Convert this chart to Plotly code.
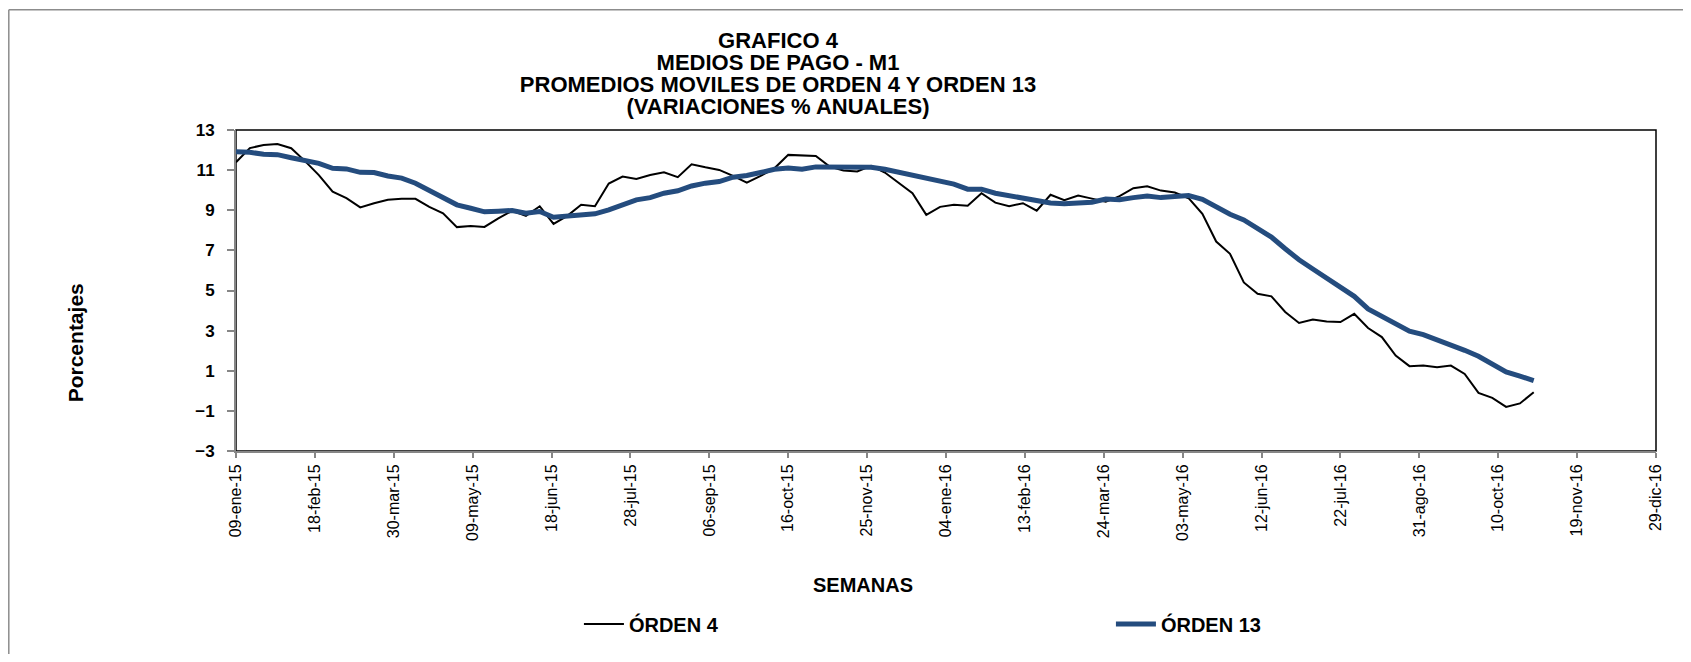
import pandas as pd
import plotly.graph_objects as go

# weekly data, first week 09-ene-15
FIRST_WEEK = "2015-01-09"

ORDEN_4 = [
    11.39, 12.10, 12.25, 12.30, 12.09, 11.45, 10.75, 9.93, 9.60, 9.14,
    9.35, 9.52, 9.57, 9.57, 9.17, 8.85, 8.16, 8.22, 8.17, 8.60,
    8.97, 8.72, 9.20, 8.32, 8.72, 9.27, 9.20, 10.33, 10.68, 10.56,
    10.76, 10.89, 10.65, 11.29, 11.14, 11.01, 10.71, 10.38, 10.71, 11.09,
    11.76, 11.74, 11.71, 11.18, 10.98, 10.93, 11.21, 10.88, 10.35, 9.85,
    8.77, 9.17, 9.27, 9.23, 9.85, 9.38, 9.20, 9.35, 8.98, 9.77,
    9.50, 9.73, 9.58, 9.42, 9.70, 10.10, 10.20, 9.98, 9.88, 9.60,
    8.82, 7.44, 6.83, 5.40, 4.84, 4.71, 3.93, 3.38, 3.55, 3.46,
    3.43, 3.84, 3.13, 2.68, 1.76, 1.23, 1.26, 1.18, 1.26, 0.84,
    -0.10, -0.35, -0.80, -0.63, -0.07,
]

ORDEN_13 = [
    11.92, 11.89, 11.79, 11.77, 11.62, 11.51, 11.34, 11.09, 11.06, 10.89,
    10.88, 10.71, 10.60, 10.35, 9.98, 9.65, 9.27, 9.10, 8.92, 8.95,
    8.99, 8.85, 8.94, 8.65, 8.72, 8.75, 8.82, 9.02, 9.27, 9.52,
    9.63, 9.85, 9.97, 10.21, 10.35, 10.43, 10.65, 10.73, 10.88, 11.04,
    11.11, 11.04, 11.16, 11.16, 11.14, 11.13, 11.14, 11.04, 10.89, 10.79,
    10.60, 10.50, 10.30, 10.05, 10.05, 9.85, 9.73, 9.57, 9.45, 9.36,
    9.32, 9.36, 9.40, 9.56, 9.52, 9.63, 9.71, 9.63, 9.68, 9.73,
    9.55, 9.19, 8.80, 8.52, 8.07, 7.66, 7.08, 6.53, 6.07, 5.62,
    5.12, 4.71, 4.08, 3.71, 3.33, 2.97, 2.80, 2.55, 2.25, 2.02,
    1.72, 1.36, 0.94, 0.73, 0.51,
]

TICK_LABELS = [
    "09-ene-15", "18-feb-15", "30-mar-15", "09-may-15", "18-jun-15",
    "28-jul-15", "06-sep-15", "16-oct-15", "25-nov-15", "04-ene-16",
    "13-feb-16", "24-mar-16", "03-may-16", "12-jun-16", "22-jul-16",
    "31-ago-16", "10-oct-16", "19-nov-16", "29-dic-16",
]

TITLE_LINES = [
    "GRAFICO 4",
    "MEDIOS DE PAGO - M1",
    "PROMEDIOS MOVILES DE ORDEN 4 Y ORDEN 13",
    "(VARIACIONES % ANUALES)",
]

weeks = pd.date_range(FIRST_WEEK, periods=len(ORDEN_4), freq="7D")
tick_dates = pd.date_range(FIRST_WEEK, periods=len(TICK_LABELS), freq="40D")

FONT = "Liberation Sans, Arial, sans-serif"
AXIS_GRAY = "#868686"

fig = go.Figure()
fig.add_trace(go.Scatter(
    x=weeks, y=ORDEN_4, name="ÓRDEN 4", mode="lines",
    line={"color": "#000000", "width": 2},
))
fig.add_trace(go.Scatter(
    x=weeks, y=ORDEN_13, name="ÓRDEN 13", mode="lines",
    line={"color": "#244C7E", "width": 5},
))

# plot area border (black) and chart area frame (gray, top and left only)
fig.add_shape(type="rect", xref="paper", yref="paper", x0=0, x1=1, y0=0, y1=1,
              line={"color": "#000000", "width": 1.5}, layer="below")
fig.add_shape(type="line", xref="paper", yref="paper", x0=-0.1600, x1=1.05, y0=1.3750, y1=1.3750,
              line={"color": "#8c8c8c", "width": 1.5})
fig.add_shape(type="line", xref="paper", yref="paper", x0=-0.1600, x1=-0.1600, y0=-0.7, y1=1.3750,
              line={"color": "#8c8c8c", "width": 1.5})

# axis titles sit off-centre in the original, so they are placed as annotations
fig.add_annotation(text="Porcentajes", xref="paper", yref="paper", x=-0.1134, y=0.3385,
                   textangle=-90, showarrow=False, xanchor="center", yanchor="middle",
                   font={"size": 21, "weight": "bold"})
fig.add_annotation(text="SEMANAS", xref="paper", yref="paper", x=0.4415, y=-0.416,
                   showarrow=False, xanchor="center", yanchor="middle",
                   font={"size": 20, "weight": "bold"})

title_text = "<br>".join(f'<span style="font-size:22px">{line}</span>' for line in TITLE_LINES)

# page body has an 8px margin, so the figure is 16px smaller than the window
fig.update_layout(
    width=1675,
    height=646,
    margin={"l": 228, "r": 27, "t": 122, "b": 202},
    paper_bgcolor="white",
    plot_bgcolor="white",
    font={"family": FONT, "color": "#000000"},
    title={
        "text": title_text,
        "font": {"size": 17, "weight": "bold", "family": FONT},
        "xref": "container", "x": 0.4597, "xanchor": "center",
        "yref": "container", "y": 0.9383, "yanchor": "top",
    },
    xaxis={
        "type": "date",
        "range": ["2015-01-09", "2016-12-29"],
        "tickvals": tick_dates,
        "ticktext": TICK_LABELS,
        "tickangle": -90,
        "tickfont": {"size": 16},
        "ticks": "outside", "ticklen": 5, "tickcolor": AXIS_GRAY, "tickwidth": 1.5,
        "showline": True, "linecolor": AXIS_GRAY, "linewidth": 2,
        "showgrid": False, "zeroline": False,
        "automargin": False,
    },
    yaxis={
        "range": [-3, 13],
        "tick0": -3, "dtick": 2,
        "tickfont": {"size": 17, "weight": "bold"},
        "ticks": "outside", "ticklen": 7, "tickcolor": AXIS_GRAY, "tickwidth": 1.5,
        "ticklabelstandoff": 9,
        "showline": True, "linecolor": AXIS_GRAY, "linewidth": 2,
        "showgrid": False, "zeroline": False,
        "automargin": False,
    },
    legend={
        "orientation": "h",
        "x": 0.2415, "xanchor": "left",
        "y": -0.534, "yanchor": "middle",
        "font": {"size": 20, "weight": "bold"},
        "entrywidth": 477,
        "itemwidth": 40,
    },
    showlegend=True,
)

fig.write_html("out.html")
